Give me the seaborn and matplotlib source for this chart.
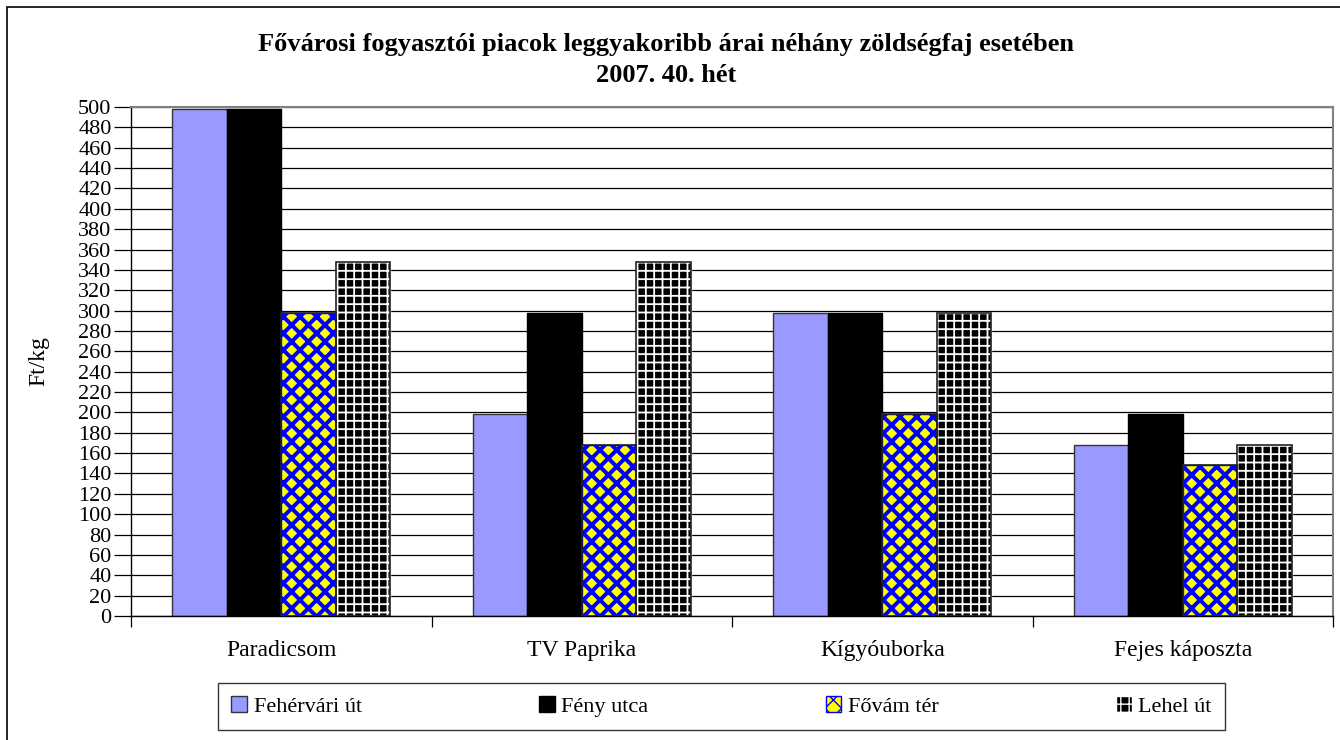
import numpy as np
import pandas as pd
import seaborn as sns
import matplotlib.pyplot as plt
from matplotlib.patches import Rectangle

# Leggyakoribb árak, Ft/kg (2007. 40. hét)
categories = ["Paradicsom", "TV Paprika", "Kígyóuborka", "Fejes káposzta"]
markets = ["Fehérvári út", "Fény utca", "Fővám tér", "Lehel út"]
fehervari = [498, 198, 298, 168]
feny = [498, 298, 298, 198]
fovam = [298, 168, 198, 148]
lehel = [348, 348, 298, 168]
y_ticks = list(range(0, 501, 20))

df = pd.DataFrame({
    "zoldseg": categories * 4,
    "piac": np.repeat(markets, 4),
    "ar": fehervari + feny + fovam + lehel,
})

STYLE = {
    "Fehérvári út": dict(face="#9999ff", edge="#333333", hatch=None, hlw=0),
    "Fény utca": dict(face="#000000", edge="#000000", hatch=None, hlw=0),
    "Fővám tér": dict(face="#ffff00", edge="#0000ff", hatch="xx", hlw=2.9),
    "Lehel út": dict(face="#000000", edge="#ffffff", hatch="++", hlw=1.3),
}

sns.set_style("white")
plt.rcParams["font.family"] = ["Liberation Serif", "DejaVu Serif"]
for key in ["text.color", "axes.labelcolor", "xtick.color", "ytick.color"]:
    plt.rcParams[key] = "black"

fig = plt.figure(figsize=(13.4, 7.4), dpi=100)
ax = fig.add_axes([131 / 1340, 1 - 616 / 740, 1202 / 1340, 509 / 740])

sns.barplot(data=df, x="zoldseg", y="ar", hue="piac", order=categories,
            hue_order=markets, width=0.727, gap=0, ax=ax, legend=False,
            palette=[STYLE[m]["face"] for m in markets], saturation=1)

handles = []
for cont, m in zip(ax.containers, markets):
    st = STYLE[m]
    for p in cont.patches:
        p.set_facecolor(st["face"])
        p.set_edgecolor(st["edge"])
        p.set_linewidth(1.0)
        p.set_zorder(2)
        if st["hatch"]:
            p.set_hatch(st["hatch"])
            try:
                p.set_hatch_linewidth(st["hlw"])
            except AttributeError:
                pass
            # dark outline above the hatch-coloured edge
            ax.add_patch(Rectangle(p.get_xy(), p.get_width(), p.get_height(),
                                   fill=False, edgecolor="#222222",
                                   linewidth=1.2, zorder=3))
    h = Rectangle((0, 0), 1, 1, facecolor=st["face"], edgecolor=st["edge"],
                  hatch=st["hatch"], linewidth=1)
    if st["hatch"]:
        try:
            h.set_hatch_linewidth(min(st["hlw"], 1.5))
        except AttributeError:
            pass
    handles.append(h)

ax.set_ylim(0, 500)
ax.set_xlim(-0.5, 3.5)
ax.set_yticks(y_ticks)
ax.yaxis.grid(True, color="black", linewidth=0.9)
ax.set_axisbelow(True)
ax.tick_params(axis="y", direction="out", length=12, width=0.9,
               labelsize=16, pad=2, left=True, color="black")
ax.set_xticks(range(len(categories)))
ax.set_xticklabels(categories, fontsize=17)
ax.set_xticks(np.arange(-0.5, 4, 1), minor=True)
ax.tick_params(axis="x", which="major", length=0, pad=17)
ax.tick_params(axis="x", which="minor", direction="out", length=8,
               width=0.9, bottom=True, color="black")
ax.set_xlabel("")
ax.set_ylabel("Ft/kg", fontsize=17)
ax.yaxis.set_label_coords(-0.068, 0.5)

for side in ["left", "bottom"]:
    ax.spines[side].set_color("black")
    ax.spines[side].set_linewidth(1)
for side in ["top", "right"]:
    ax.spines[side].set_visible(True)
    ax.spines[side].set_color("#808080")
    ax.spines[side].set_linewidth(1.5)

fig.text(0.497, 1 - 45 / 740,
         "Fővárosi fogyasztói piacok leggyakoribb árai néhány zöldségfaj esetében",
         ha="center", va="center", fontsize=19, fontweight="bold")
fig.text(0.497, 1 - 75 / 740, "2007. 40. hét",
         ha="center", va="center", fontsize=19, fontweight="bold")

leg = fig.legend(handles, markets, loc="lower left", ncol=4, mode="expand",
                 bbox_to_anchor=(218 / 1340, 10 / 740, 1007 / 1340, 57 / 740),
                 fontsize=16, frameon=True, fancybox=False, edgecolor="black",
                 handlelength=0.7, handleheight=0.7, handletextpad=0.3,
                 borderpad=0.6, borderaxespad=0)
leg.get_frame().set_linewidth(1)

# outer chart border
fig.patches.append(Rectangle((7 / 1340, -0.05), 1.1, 1 - 7 / 740 + 0.05,
                             transform=fig.transFigure, fill=False,
                             edgecolor="black", linewidth=1.2))

fig.savefig("out.png", dpi=100)
